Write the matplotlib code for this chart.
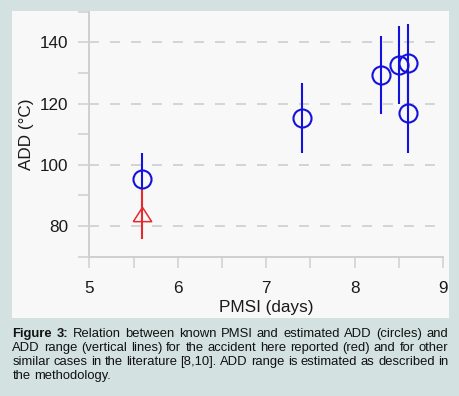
import matplotlib
matplotlib.use("Agg")
import matplotlib.pyplot as plt
from matplotlib.patches import Rectangle
from matplotlib.ticker import MultipleLocator

plt.rcParams['font.family'] = ['Liberation Sans', 'DejaVu Sans']

# ---- data ----
# other cases from the literature (blue)
pmsi_lit = [5.6, 7.4, 8.3, 8.5, 8.6, 8.6]
add_lit = [95.3, 115.3, 129.3, 132.6, 133.2, 117.0]
add_lit_lo = [92.3, 104.0, 116.6, 119.8, 120.0, 104.0]
add_lit_hi = [103.8, 126.7, 142.0, 145.4, 146.0, 130.0]

# the accident reported here (red)
pmsi_case = [5.6]
add_case = [83.8]
add_case_lo = [75.7]
add_case_hi = [92.3]

# caption, one string per printed line
caption_lines = [
    "Figure 3: Relation between known PMSI and estimated ADD (circles) and",
    "ADD range (vertical lines) for the accident here reported (red) and for other",
    "similar cases in the literature [8,10]. ADD range is estimated as described in",
    "the methodology.",
]
bold_words = {(0, 0), (0, 1)}

W, H = 460, 396
BG = '#d3e2e0'
PANEL = '#f8f8f8'
BLUE = '#1212dc'
RED = '#e42a2a'
GREY = '#cfcfcf'
TXT = '#1a1a1a'
CAP_SIZE = 9.4

fig = plt.figure(figsize=(W / 100, H / 100), dpi=100, facecolor=BG)
fig.patches.append(Rectangle((12 / W, 1 - 318 / H), (449 - 12) / W, (318 - 11) / H,
                             transform=fig.transFigure, facecolor=PANEL,
                             edgecolor='none', zorder=-5))

ax = fig.add_axes([89.3 / W, 1 - 256.7 / H, (443 - 89.3) / W, (256.7 - 11.7) / H])
ax.set_zorder(2)
ax.set_facecolor(PANEL)
ax.set_xlim(5, 9)
ax.set_ylim(70, 150)
ax.xaxis.set_major_locator(MultipleLocator(1))
ax.xaxis.set_minor_locator(MultipleLocator(0.5))
ax.yaxis.set_major_locator(MultipleLocator(20))
ax.yaxis.set_minor_locator(MultipleLocator(10))

for s in ('top', 'right'):
    ax.spines[s].set_visible(False)
for s in ('left', 'bottom'):
    ax.spines[s].set_color(GREY)
    ax.spines[s].set_linewidth(1.4)

ax.tick_params(which='both', direction='out', length=7.7, width=1.1, color=GREY,
               labelcolor=TXT, labelsize=12.3)
ax.tick_params(axis='x', pad=9.5)
ax.tick_params(axis='y', pad=7.5)

ax.grid(axis='y', which='major', color='#d4d4d4', linewidth=1.4,
        linestyle=(0, (5.1, 5.7)), zorder=1)
ax.set_axisbelow(True)

# ADD ranges
ax.vlines(pmsi_lit, add_lit_lo, add_lit_hi, color=BLUE, linewidth=1.5, zorder=3)
ax.vlines(pmsi_case, add_case_lo, add_case_hi, color=RED, linewidth=1.5, zorder=3)

# estimated ADD
ax.plot(pmsi_lit, add_lit, linestyle='none', marker='o', markersize=13,
        markerfacecolor='none', markeredgecolor=BLUE, markeredgewidth=1.5, zorder=4)
tri = [(-1, -0.78), (1, -0.78), (0, 0.78), (-1, -0.78)]
ax.plot(pmsi_case, add_case, linestyle='none', marker=tri, markersize=13.2,
        markerfacecolor='none', markeredgecolor=RED, markeredgewidth=1.1, zorder=4)

ax.set_xlabel("PMSI (days)", fontsize=12.3, color=TXT, labelpad=3)
ax.set_ylabel("ADD (°C)", fontsize=12.3, color=TXT, labelpad=4)

# justified caption
renderer = fig.canvas.get_renderer()
x0, x1 = 12.3, 448.3
baselines = [337.3, 351.3, 365.3, 379.3]
space_w = 0.278 * CAP_SIZE * 100 / 72
for li, line in enumerate(caption_lines):
    words = line.split(' ')
    texts = []
    for wi, w in enumerate(words):
        t = fig.text(0, 1 - baselines[li] / H, w, fontsize=CAP_SIZE, color='#111111',
                     fontweight='bold' if (li, wi) in bold_words else 'normal',
                     ha='left', va='baseline')
        texts.append(t)
    widths = [t.get_window_extent(renderer).width for t in texts]
    if li < len(caption_lines) - 1:
        gap = (x1 - x0 - sum(widths)) / (len(words) - 1)
    else:
        gap = space_w
    x = x0
    for t, w in zip(texts, widths):
        t.set_x(x / W)
        x += w + gap

fig.savefig("out.png", dpi=100, facecolor=BG)
